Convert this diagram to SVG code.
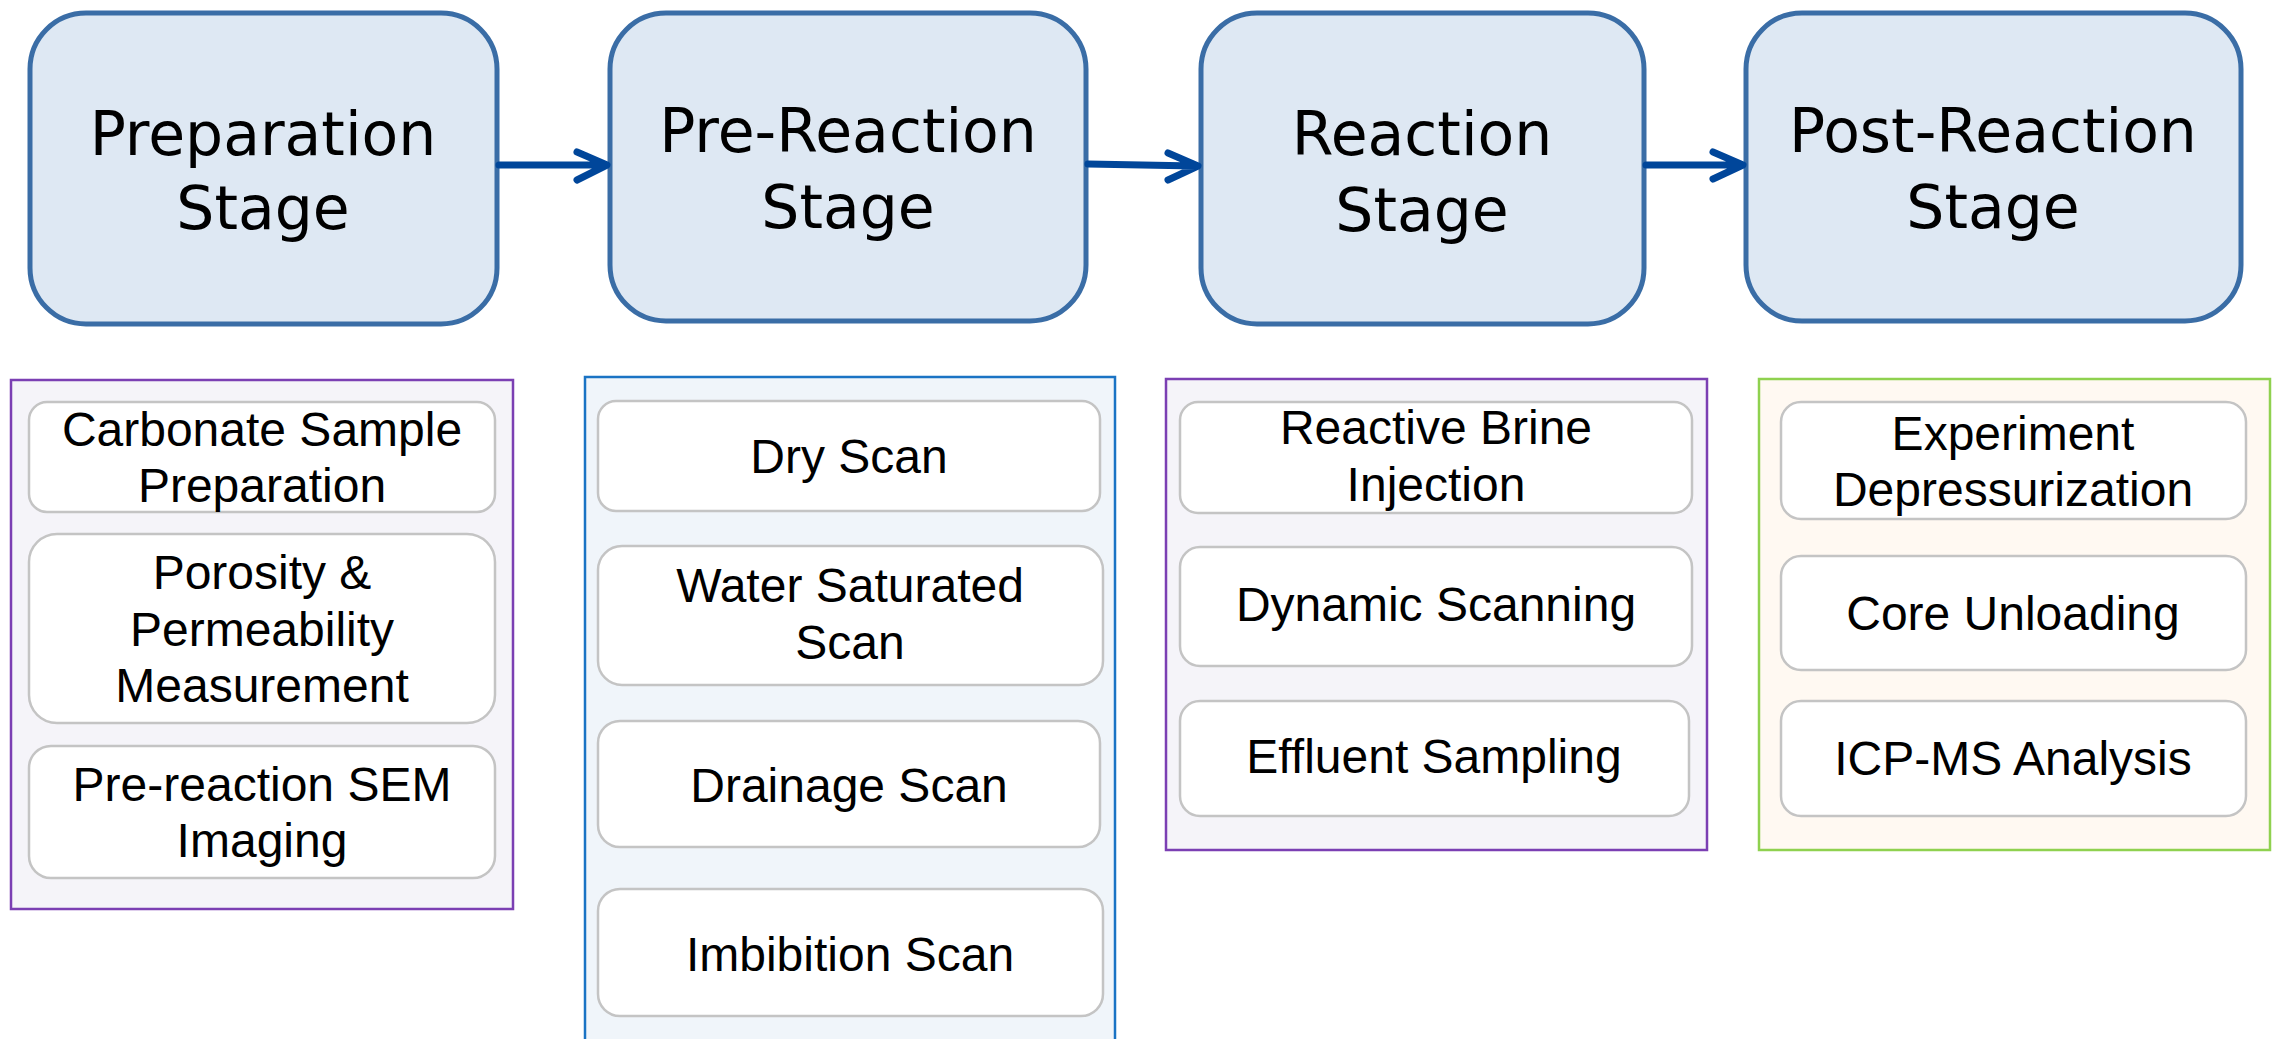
<svg xmlns="http://www.w3.org/2000/svg" width="2275" height="1039" viewBox="0 0 2275 1039">
<style>
.stage{fill:#dee8f3;stroke:#3a6da6;stroke-width:5}
.st{font-family:"DejaVu Sans","Noto Sans",sans-serif;font-size:60px;fill:#000;text-anchor:middle}
.panel{stroke-width:2.5}
.p1{fill:#f5f4f9;stroke:#7b3fb3}
.p2{fill:#f0f5fa;stroke:#1a73c4}
.p4{fill:#fff9f2;stroke:#8fd14f}
.item{fill:#fff;stroke:#c4c4c4;stroke-width:2.5}
.it{font-family:"Liberation Sans",Arial,sans-serif;font-size:48px;fill:#000;text-anchor:middle}
.conn{fill:none;stroke:#00469a;stroke-width:7;stroke-linecap:round;stroke-linejoin:round}
</style>
<rect width="2275" height="1039" fill="#fff"/>
<g id="stage-preparation">
<rect class="stage" x="30" y="13" width="467" height="311" rx="56"/>
<text class="st"><tspan x="263" y="155">Preparation</tspan><tspan x="263" y="229">Stage</tspan></text>
</g>
<g id="stage-prereaction">
<rect class="stage" x="610" y="13" width="476" height="308" rx="56"/>
<text class="st"><tspan x="848" y="152">Pre-Reaction</tspan><tspan x="848" y="228">Stage</tspan></text>
</g>
<g id="stage-reaction">
<rect class="stage" x="1201" y="13" width="443" height="311" rx="56"/>
<text class="st"><tspan x="1422" y="155">Reaction</tspan><tspan x="1422" y="231">Stage</tspan></text>
</g>
<g id="stage-postreaction">
<rect class="stage" x="1746" y="13" width="495" height="308" rx="56"/>
<text class="st"><tspan x="1993" y="152">Post-Reaction</tspan><tspan x="1993" y="228">Stage</tspan></text>
</g>
<g id="connectors">
<path class="conn" d="M499 165 L605 165 M577 152 L607 165 L577 180"/>
<path class="conn" d="M1088 164 L1196 166 M1168 153 L1198 166 L1168 180"/>
<path class="conn" d="M1646 165 L1741 165 M1713 152 L1743 165 L1713 179"/>
</g>
<g id="panel-preparation">
<rect class="panel p1" x="11" y="380" width="502" height="529"/>
<g id="item-carbonate"><rect class="item" x="29" y="402" width="466" height="110" rx="18"/>
<text class="it"><tspan x="262" y="446">Carbonate Sample</tspan><tspan x="262" y="502">Preparation</tspan></text></g>
<g id="item-porosity"><rect class="item" x="29" y="534" width="466" height="189" rx="28"/>
<text class="it"><tspan x="262" y="589">Porosity &amp;</tspan><tspan x="262" y="646">Permeability</tspan><tspan x="262" y="702">Measurement</tspan></text></g>
<g id="item-sem"><rect class="item" x="29" y="746" width="466" height="132" rx="22"/>
<text class="it"><tspan x="262" y="801">Pre-reaction SEM</tspan><tspan x="262" y="857">Imaging</tspan></text></g>
</g>
<g id="panel-prereaction">
<rect class="panel p2" x="585" y="377" width="530" height="680"/>
<g id="item-dry"><rect class="item" x="598" y="401" width="502" height="110" rx="18"/>
<text class="it" x="849" y="473">Dry Scan</text></g>
<g id="item-water"><rect class="item" x="598" y="546" width="505" height="139" rx="24"/>
<text class="it"><tspan x="850" y="602">Water Saturated</tspan><tspan x="850" y="659">Scan</tspan></text></g>
<g id="item-drainage"><rect class="item" x="598" y="721" width="502" height="126" rx="22"/>
<text class="it" x="849" y="802">Drainage Scan</text></g>
<g id="item-imbibition"><rect class="item" x="598" y="889" width="505" height="127" rx="22"/>
<text class="it" x="850" y="971">Imbibition Scan</text></g>
</g>
<g id="panel-reaction">
<rect class="panel p1" x="1166" y="379" width="541" height="471"/>
<g id="item-brine"><rect class="item" x="1180" y="402" width="512" height="111" rx="18"/>
<text class="it"><tspan x="1436" y="444">Reactive Brine</tspan><tspan x="1436" y="501">Injection</tspan></text></g>
<g id="item-dynamic"><rect class="item" x="1180" y="547" width="512" height="119" rx="20"/>
<text class="it" x="1436" y="621">Dynamic Scanning</text></g>
<g id="item-effluent"><rect class="item" x="1180" y="701" width="509" height="115" rx="20"/>
<text class="it" x="1434" y="773">Effluent Sampling</text></g>
</g>
<g id="panel-postreaction">
<rect class="panel p4" x="1759" y="379" width="511" height="471"/>
<g id="item-depress"><rect class="item" x="1781" y="402" width="465" height="117" rx="20"/>
<text class="it"><tspan x="2013" y="450">Experiment</tspan><tspan x="2013" y="506">Depressurization</tspan></text></g>
<g id="item-core"><rect class="item" x="1781" y="556" width="465" height="114" rx="20"/>
<text class="it" x="2013" y="630">Core Unloading</text></g>
<g id="item-icp"><rect class="item" x="1781" y="701" width="465" height="115" rx="20"/>
<text class="it" x="2013" y="775">ICP-MS Analysis</text></g>
</g>
</svg>
